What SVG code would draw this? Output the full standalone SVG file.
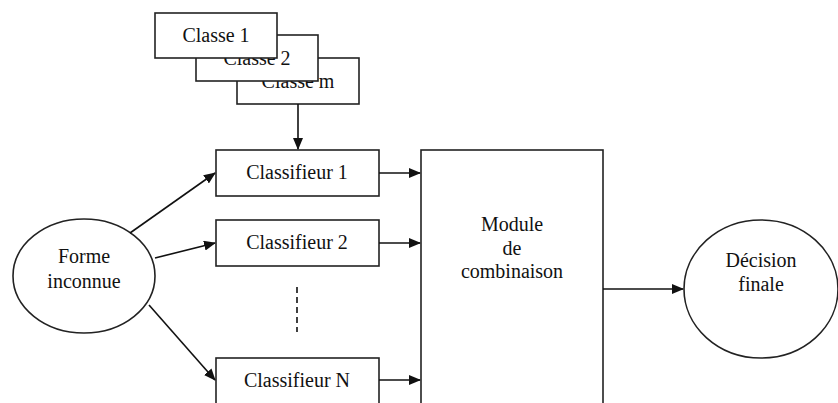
<svg xmlns="http://www.w3.org/2000/svg" width="838" height="403" viewBox="0 0 838 403">
<style>
.b{fill:#fff;stroke:#222;stroke-width:1.6}
.t{font-family:"Liberation Serif",serif;font-size:20px;fill:#111;text-anchor:middle}
.c{stroke:#111;stroke-width:1.6;fill:none}
</style>
<defs>
<marker id="ah" markerWidth="12" markerHeight="10" refX="11" refY="5" orient="auto" markerUnits="userSpaceOnUse">
<path d="M0,0 L12,5 L0,10 Z" fill="#111"/>
</marker>
</defs>
<rect width="838" height="403" fill="#fff"/>
<g id="classe-m"><rect class="b" x="237" y="58" width="122" height="46"/><text class="t" x="298" y="88">Classe m</text></g>
<g id="classe-2"><rect class="b" x="196" y="35" width="122" height="46"/><text class="t" x="257" y="65">Classe 2</text></g>
<g id="classe-1"><rect class="b" x="155" y="13" width="122" height="45"/><text class="t" x="216" y="42">Classe 1</text></g>
<g id="classifieur-1"><rect class="b" x="216" y="150" width="163" height="46"/><text class="t" x="297" y="179">Classifieur 1</text></g>
<g id="classifieur-2"><rect class="b" x="216" y="220" width="163" height="46"/><text class="t" x="297" y="249">Classifieur 2</text></g>
<g id="classifieur-n"><rect class="b" x="216" y="358" width="163" height="48"/><text class="t" x="297" y="387">Classifieur N</text></g>
<g id="forme"><ellipse class="b" cx="84" cy="276" rx="71" ry="57"/><text class="t" x="84" y="263">Forme</text><text class="t" x="84" y="288">inconnue</text></g>
<g id="module"><rect class="b" x="421" y="150" width="182" height="258"/><text class="t" x="512" y="231">Module</text><text class="t" x="512" y="255">de</text><text class="t" x="512" y="278">combinaison</text></g>
<g id="decision"><ellipse class="b" cx="761" cy="289" rx="77" ry="69"/><text class="t" x="761" y="267">Décision</text><text class="t" x="761" y="291">finale</text></g>
<g id="connectors">
<line class="c" x1="298" y1="104" x2="298" y2="149" marker-end="url(#ah)"/>
<line class="c" x1="130" y1="233" x2="215" y2="173" marker-end="url(#ah)"/>
<line class="c" x1="155" y1="258" x2="215" y2="243" marker-end="url(#ah)"/>
<line class="c" x1="149" y1="305" x2="215" y2="380" marker-end="url(#ah)"/>
<line class="c" x1="379" y1="173" x2="420" y2="173" marker-end="url(#ah)"/>
<line class="c" x1="379" y1="243" x2="420" y2="243" marker-end="url(#ah)"/>
<line class="c" x1="379" y1="380" x2="420" y2="380" marker-end="url(#ah)"/>
<line class="c" x1="603" y1="289" x2="683" y2="289" marker-end="url(#ah)"/>
<line class="c" x1="297" y1="287" x2="297" y2="332" stroke-dasharray="6,4"/>
</g>
</svg>
